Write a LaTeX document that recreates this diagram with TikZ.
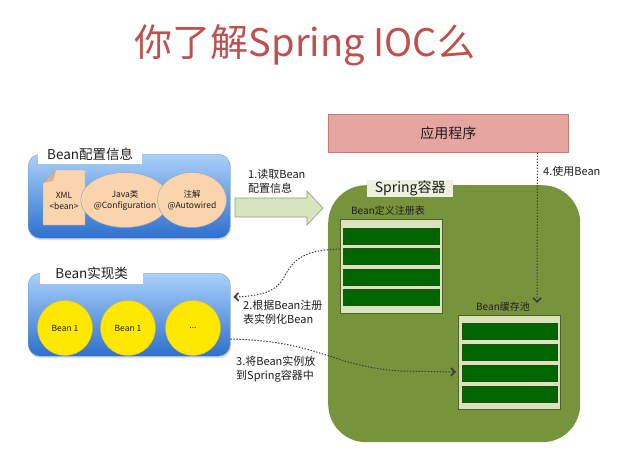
\documentclass[tikz,border=0pt]{standalone}
\usepackage{fontspec}
\setmainfont{Noto Sans CJK SC}
\usetikzlibrary{arrows.meta,shadows,shapes.geometric,calc}

\definecolor{titlered}{RGB}{192,80,77}
\definecolor{bluetop}{RGB}{170,208,250}
\definecolor{bluebot}{RGB}{45,112,205}
\definecolor{blueedge}{RGB}{120,160,215}
\definecolor{peach}{RGB}{250,212,172}
\definecolor{peachedge}{RGB}{150,160,190}
\definecolor{foldpeach}{RGB}{215,175,140}
\definecolor{sunyellow}{RGB}{255,232,0}
\definecolor{yellowedge}{RGB}{225,190,40}
\definecolor{springgreen}{RGB}{119,147,60}
\definecolor{palegreen}{RGB}{215,228,189}
\definecolor{tabgreen}{RGB}{235,241,222}
\definecolor{bargreen}{RGB}{0,102,0}
\definecolor{baredge}{RGB}{40,75,20}
\definecolor{boxedge}{RGB}{80,98,40}
\definecolor{appred}{RGB}{230,165,160}
\definecolor{appedge}{RGB}{200,120,115}
\definecolor{arrowedge}{RGB}{140,165,110}
\definecolor{linkgray}{RGB}{60,60,60}
\definecolor{inktext}{RGB}{30,30,30}

\tikzset{
  bluebox/.style={rounded corners=12pt, top color=bluetop, bottom color=bluebot,
    draw=blueedge, line width=0.4pt,
    drop shadow={opacity=0.25, shadow xshift=1pt, shadow yshift=-2pt}},
  tabbox/.style={fill=white, inner sep=0pt, font=\fontsize{13.5}{15}\selectfont,
    text=inktext},
  bubble/.style={ellipse, fill=peach, draw=peachedge, line width=0.4pt,
    inner sep=0pt, align=center, font=\fontsize{8.5}{11}\selectfont, text=inktext},
  beanball/.style={circle, fill=sunyellow, draw=yellowedge, line width=0.4pt,
    minimum size=55pt, inner sep=0pt, font=\fontsize{8.5}{10}\selectfont, text=inktext},
  holder/.style={fill=palegreen, draw=boxedge, line width=0.6pt,
    minimum width=102pt, minimum height=94pt, inner sep=0pt},
  slot/.style={fill=bargreen, draw=baredge, line width=0.4pt,
    minimum height=16pt, inner sep=0pt},
  note/.style={inner sep=0pt, align=left, text=inktext,
    font=\fontsize{11}{14}\selectfont},
  link/.style={draw=linkgray, line width=1pt, dash pattern=on 1.4pt off 1.6pt,
    -{Straight Barb[length=4pt,width=8pt,line width=1.6pt]}},
}

\begin{document}
\begin{tikzpicture}[x=1pt,y=-1pt]
\useasboundingbox (0,0) rectangle (617,451);
\fill[white] (0,0) rectangle (617,451);

% heading
\node[font=\fontsize{38}{42}\selectfont, text=titlered] (title) at (305,45) {你了解Spring IOC么};

% configuration sources
\node[bluebox, anchor=north west, minimum width=202pt, minimum height=84pt] (cfg) at (28,154) {};
\node[tabbox, anchor=north west, minimum width=104pt, minimum height=19pt] (cfgtab) at (38,145) {Bean配置信息};
\fill[peach, draw=peachedge, line width=0.4pt]
  (56,170) -- (85,170) -- (85,225) -- (43,225) -- (43,183) -- cycle;
\fill[foldpeach] (43,183) -- (56,170) -- (53,181) -- cycle;
\node[inner sep=0pt, align=center, font=\fontsize{8.5}{11.5}\selectfont, text=inktext] (xml) at (64,201) {XML\\<bean>};
\node[bubble, minimum width=70pt, minimum height=55pt] (javacfg) at (125,200) {Java类\\@Configuration};
\node[bubble, minimum width=60pt, minimum height=55pt] (anno) at (192,200) {注解\\@Autowired};

% bean implementation classes
\node[bluebox, anchor=north west, minimum width=202pt, minimum height=83pt] (impl) at (28,273) {};
\node[tabbox, anchor=north west, minimum width=103pt, minimum height=21pt] (impltab) at (40,263) {Bean实现类};
\node[beanball] (beanA) at (65,328) {Bean 1};
\node[beanball] (beanB) at (128,328) {Bean 1};
\node[beanball] (beanC) at (193,328) {...};

% application
\node[fill=appred, draw=appedge, line width=0.5pt, anchor=north west,
  minimum width=240pt, minimum height=38pt, font=\fontsize{14}{16}\selectfont,
  text=inktext] (app) at (328,114) {应用程序};

% spring container
\node[fill=springgreen, rounded corners=38pt, anchor=north west,
  minimum width=252pt, minimum height=257pt] (ctr) at (328,185) {};
\node[fill=tabgreen, inner sep=0pt, anchor=north west, minimum width=86pt,
  minimum height=17pt, font=\fontsize{14}{16}\selectfont, text=inktext] (ctrtab) at (367,180) {Spring容器};

% bean definition registry
\node[font=\fontsize{10}{12}\selectfont, text=inktext, inner sep=0pt] (reglabel) at (388,211) {Bean定义注册表};
\node[holder, anchor=north west] (reg) at (340,219) {};
\foreach \i/\y in {1/228, 2/248, 3/269, 4/289}
  \node[slot, anchor=north west, minimum width=96pt] (reg\i) at (343,\y) {};

% bean cache pool
\node[font=\fontsize{10}{12}\selectfont, text=inktext, inner sep=0pt] (poollabel) at (503,307) {Bean缓存池};
\node[holder, anchor=north west] (pool) at (458,315) {};
\foreach \i/\y in {1/323, 2/344, 3/365, 4/386}
  \node[slot, anchor=north west, minimum width=95pt] (pool\i) at (462,\y) {};

% step 1: read configuration
\filldraw[fill=palegreen, draw=arrowedge, line width=0.6pt]
  (235,198) -- (307,198) -- (307,191) -- (323,208) -- (307,225) -- (307,217) -- (235,217) -- cycle;
\node[note, anchor=north west] (step1) at (248,169) {1.读取Bean\\配置信息};

% step 2: instantiate from registry
\coordinate (regout) at ($(reg.north west)+(0,30)$);
\coordinate (implin) at ($(impl.north east)+(3,24)$);
\draw[link] (regout) .. controls (300,250) and (292,262) .. (283,279)
  .. controls (276,291) and (262,296) .. (implin);
\node[note, anchor=north west] (step2) at (243,300) {2.根据Bean注册\\表实例化Bean};

% step 3: put instances into the container
\coordinate (implout) at ($(impl.north east)+(0,66)$);
\coordinate (poolin) at ($(pool.north west)+(-2,57)$);
\draw[link] (implout) .. controls (320,341) and (330,366) .. (400,371) -- (poolin);
\node[note, anchor=north west] (step3) at (236,356) {3.将Bean实例放\\到Spring容器中};

% step 4: application uses beans
\coordinate (appout) at ($(app.south east)+(-31,0)$);
\coordinate (usebean) at (537,303);
\draw[link] (appout) -- (usebean);
\node[note, anchor=north west] (step4) at (543,166) {4.使用Bean};
\end{tikzpicture}
\end{document}
